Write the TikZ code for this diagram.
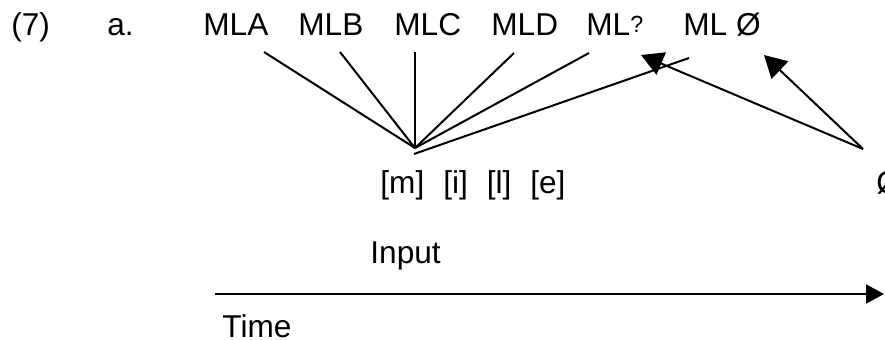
\documentclass[tikz,border=0pt]{standalone}
\usepackage{fontspec}
\setmainfont{Liberation Sans}
\usetikzlibrary{arrows.meta}

\begin{document}
\begin{tikzpicture}[x=0.5pt,y=-0.5pt,
  word/.style={anchor=base west,inner sep=0pt,font=\fontsize{15.8}{19}\selectfont},
  link/.style={line width=1pt},
  tip/.style={line width=1pt,-{Triangle[length=11pt,width=12pt]}}]
\useasboundingbox (0,0) rectangle (885,339);
\node[word](num) at (11,35) {(7)};
\node[word](ex) at (107,35) {a.};
\node[word](mla) at (203,35) {MLA};
\node[word](mlb) at (298,35) {MLB};
\node[word](mlc) at (394,35) {MLC};
\node[word](mld) at (491,35) {MLD};
\node[word](mlq) at (586,35) {ML\raisebox{1.5pt}{\fontsize{11.7}{14}\selectfont ?}};
\node[word](mlz) at (683,35) {ML \O};
\node[word](seg) at (380,193) {[m]\hspace{0.6em}[i]\hspace{0.6em}[l]\hspace{0.6em}[e]};
\node[word](zero) at (876,193) {\O};
\node[word](inp) at (370,263) {Input};
\node[word](time) at (222,337) {Time};
\coordinate (ta) at (264,52);
\coordinate (tb) at (340,52);
\coordinate (tc) at (415,52);
\coordinate (td) at (514,53);
\coordinate (tq) at (589,53);
\coordinate (tz) at (689,58);
\coordinate (hub) at (415,148);
\coordinate (hub2) at (414,154);
\coordinate (src) at (863,149);
\coordinate (aq) at (641,55);
\coordinate (az) at (764,55);
\coordinate (t0) at (215,294);
\coordinate (t1) at (884,294);
\draw[link] (ta) -- (hub);
\draw[link] (tb) -- (hub);
\draw[link] (tc) -- (hub);
\draw[link] (td) -- (hub);
\draw[link] (tq) -- (hub);
\draw[link] (tz) -- (hub2);
\draw[tip] (src) -- (aq);
\draw[tip] (src) -- (az);
\draw[line width=1pt,-{Triangle[length=9pt,width=9.5pt]}] (t0) -- (t1);
\end{tikzpicture}
\end{document}
